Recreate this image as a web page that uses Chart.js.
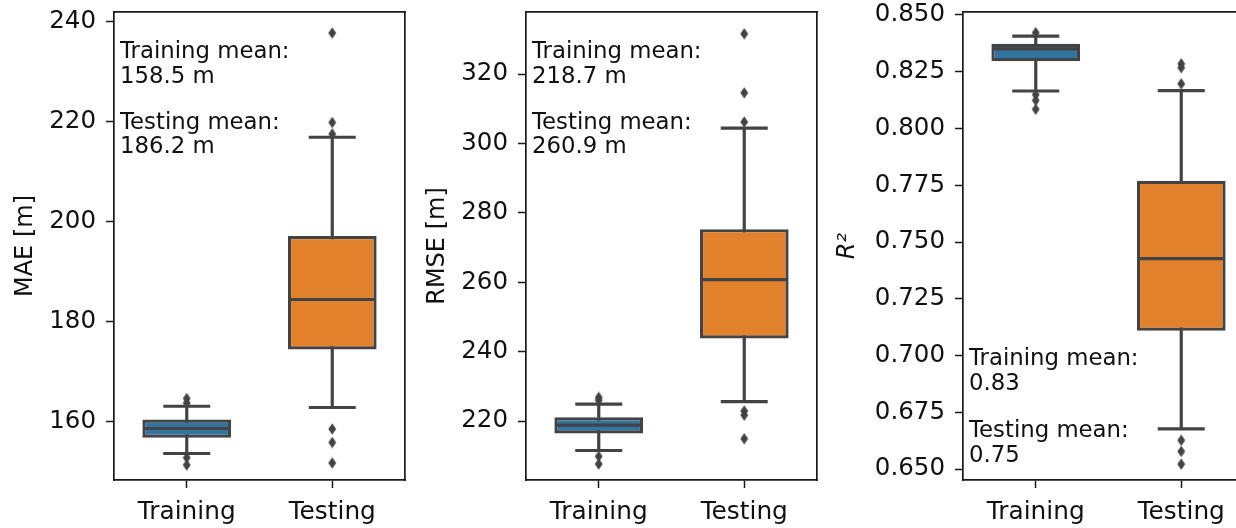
<!DOCTYPE html>
<html>
<head>
<meta charset="utf-8">
<script src="https://cdn.jsdelivr.net/npm/chart.js@4.4.0/dist/chart.umd.min.js"></script>
<style>
  html, body { margin: 0; padding: 0; background: #ffffff; overflow: hidden; width: 1236px; height: 528px; }
  .panel { position: absolute; top: 0; height: 528px; }
  canvas { display: block; }
</style>
</head>
<body>
<div class="panel" style="left:0px;"><canvas id="c1" width="410" height="528"></canvas></div>
<div class="panel" style="left:420px;"><canvas id="c2" width="402" height="528"></canvas></div>
<div class="panel" style="left:830px;"><canvas id="c3" width="430" height="528"></canvas></div>
<script>
// ---------------- DATA ----------------
const categories = ['Training', 'Testing'];

// MAE [m]
const maeQ1 = [156.75, 174.4];
const maeMedian = [158.6, 184.4];
const maeQ3 = [160.4, 197.1];
const maeWhiskerLow = [153.6, 162.8];
const maeWhiskerHigh = [163.05, 216.85];
const maeOutliersTraining = [164.6, 163.7, 152.75, 151.3];
const maeOutliersTesting = [237.7, 219.8, 217.5, 158.5, 155.8, 151.7];
const maeTicks = [160, 180, 200, 220, 240];
const maeMeans = [158.5, 186.2];

// RMSE [m]
const rmseQ1 = [216.4, 243.8];
const rmseMedian = [218.8, 260.75];
const rmseQ3 = [221.1, 275.3];
const rmseWhiskerLow = [211.5, 225.6];
const rmseWhiskerHigh = [224.85, 304.4];
const rmseOutliersTraining = [226.8, 226.0, 209.8, 207.6];
const rmseOutliersTesting = [331.6, 314.6, 306.2, 222.9, 221.7, 214.9];
const rmseTicks = [220, 240, 260, 280, 300, 320];
const rmseMeans = [218.7, 260.9];

// R^2
const r2Q1 = [0.8296, 0.7109];
const r2Median = [0.8351, 0.7427];
const r2Q3 = [0.8373, 0.7770];
const r2WhiskerLow = [0.8165, 0.6677];
const r2WhiskerHigh = [0.8407, 0.8167];
const r2OutliersTraining = [0.8422, 0.8149, 0.8124, 0.8085];
const r2OutliersTesting = [0.8285, 0.8268, 0.8197, 0.6627, 0.6578, 0.6522];
const r2Ticks = [0.650, 0.675, 0.700, 0.725, 0.750, 0.775, 0.800, 0.825, 0.850];
const r2Means = [0.83, 0.75];

// ---------------- STYLE ----------------
const FONT = 'DejaVu Sans';
const TEXT = '#111111';
const SPINE = '#1a1a1a';
const EDGE = '#434343';
const BOX_COLORS = ['#3274a1', '#e1812c'];

Chart.defaults.font.family = FONT;
Chart.defaults.color = TEXT;

// thin diamond marker for fliers
function makeDiamond() {
  const c = document.createElement('canvas');
  c.width = 9; c.height = 12;
  const g = c.getContext('2d');
  g.fillStyle = EDGE;
  g.beginPath();
  g.moveTo(4.5, 0.3); g.lineTo(8.4, 6); g.lineTo(4.5, 11.7); g.lineTo(0.6, 6);
  g.closePath(); g.fill();
  return c;
}
const diamond = makeDiamond();

const meanTextPlugin = {
  id: 'meanText',
  afterDraw(chart, args, opts) {
    if (!opts || !opts.lines) return;
    const { ctx, chartArea } = chart;
    ctx.save();
    ctx.font = '22.8px "' + FONT + '"';
    ctx.fillStyle = TEXT;
    ctx.textAlign = 'left';
    ctx.textBaseline = 'alphabetic';
    const baseY = opts.anchor === 'top' ? chartArea.top : chartArea.bottom;
    opts.lines.forEach((t, i) => {
      ctx.fillText(t, chartArea.left + 6, baseY + opts.offsets[i]);
    });
    ctx.restore();
  }
};

function makePanel(id, p) {
  const whiskerPts = [];
  categories.forEach((c, i) => {
    whiskerPts.push({ x: c, y: p.wLow[i] }, { x: c, y: p.wHigh[i] }, { x: c, y: null });
  });
  const capPts = [];
  categories.forEach((c, i) => {
    capPts.push({ x: c, y: p.wLow[i] }, { x: c, y: p.wHigh[i] });
  });
  const medianPts = categories.map((c, i) => ({ x: c, y: p.median[i] }));
  const outlierPts = p.outTrain.map(v => ({ x: categories[0], y: v }))
    .concat(p.outTest.map(v => ({ x: categories[1], y: v })));

  new Chart(document.getElementById(id), {
    type: 'bar',
    data: {
      labels: categories,
      datasets: [
        {
          type: 'line', label: 'outliers', order: 0, data: outlierPts,
          showLine: false, pointStyle: diamond, pointRadius: 5, pointHoverRadius: 5,
          clip: false
        },
        {
          type: 'line', label: 'medians', order: 1, data: medianPts,
          showLine: false, pointStyle: 'line', pointRadius: 43, pointBorderWidth: 3.2,
          pointBorderColor: EDGE, pointBackgroundColor: EDGE
        },
        {
          type: 'line', label: 'caps', order: 2, data: capPts,
          showLine: false, pointStyle: 'line', pointRadius: 23.5, pointBorderWidth: 3.2,
          pointBorderColor: EDGE, pointBackgroundColor: EDGE
        },
        {
          type: 'bar', label: 'box', order: 3,
          data: categories.map((c, i) => [p.q1[i], p.q3[i]]),
          backgroundColor: BOX_COLORS, borderColor: EDGE, borderWidth: 3.2,
          borderSkipped: false, barPercentage: 0.61, categoryPercentage: 1.0
        },
        {
          type: 'line', label: 'whiskers', order: 4, data: whiskerPts,
          borderColor: EDGE, borderWidth: 3.2, pointRadius: 0, spanGaps: false, fill: false
        }
      ]
    },
    options: {
      responsive: false,
      animation: false,
      events: [],
      layout: { autoPadding: false, padding: { top: 12, right: p.padRight, left: 0, bottom: 0 } },
      plugins: {
        legend: { display: false },
        tooltip: { enabled: false },
        meanText: { lines: p.meanLines, offsets: p.meanOffsets, anchor: p.meanAnchor }
      },
      scales: {
        x: {
          type: 'category', position: 'bottom', offset: true,
          ticks: { font: { size: 24.8 }, color: TEXT, padding: 10 },
          grid: { display: true, offset: false, drawOnChartArea: false, drawTicks: true,
                  tickLength: 8, tickWidth: 1.5, tickColor: SPINE },
          border: { display: true, color: SPINE, width: 1.7 },
          afterFit: s => { s.height = 48; s.paddingLeft = 0; s.paddingRight = 0; }
        },
        y: {
          type: 'linear', position: 'left', min: p.min, max: p.max,
          afterBuildTicks: s => { s.ticks = p.ticks.map(v => ({ value: v })); },
          ticks: { font: { size: 24.5 }, color: TEXT, padding: 10, callback: p.fmt },
          grid: { display: true, drawOnChartArea: false, drawTicks: true,
                  tickLength: 8, tickWidth: 1.5, tickColor: SPINE },
          border: { display: true, color: SPINE, width: 1.7 },
          title: { display: true, text: p.title, font: { size: 24, style: p.titleStyle || 'normal' },
                   color: TEXT, padding: { top: p.titlePad, bottom: 0 } },
          afterFit: s => { s.width = p.yWidth; s.paddingTop = 0; s.paddingBottom = 0; }
        },
        xTop: {
          type: 'linear', position: 'top', display: true,
          ticks: { display: false }, grid: { display: false },
          border: { display: true, color: SPINE, width: 1.7 },
          afterFit: s => { s.height = 0; s.paddingLeft = 0; s.paddingRight = 0; }
        },
        yRight: {
          type: 'linear', position: 'right', display: true,
          ticks: { display: false }, grid: { display: false },
          border: { display: true, color: SPINE, width: 1.7 },
          afterFit: s => { s.width = 0; s.paddingTop = 0; s.paddingBottom = 0; }
        }
      }
    },
    plugins: [meanTextPlugin]
  });
}

makePanel('c1', {
  q1: maeQ1, q3: maeQ3, median: maeMedian, wLow: maeWhiskerLow, wHigh: maeWhiskerHigh,
  outTrain: maeOutliersTraining, outTest: maeOutliersTesting,
  min: 148.3, max: 241.9, ticks: maeTicks, fmt: v => String(v),
  title: 'MAE [m]', titlePad: 11, yWidth: 114, padRight: 5,
  meanLines: ['Training mean:', maeMeans[0].toFixed(1) + ' m', 'Testing mean:', maeMeans[1].toFixed(1) + ' m'],
  meanOffsets: [46.3, 70.7, 116.7, 140.7], meanAnchor: 'top'
});

makePanel('c2', {
  q1: rmseQ1, q3: rmseQ3, median: rmseMedian, wLow: rmseWhiskerLow, wHigh: rmseWhiskerHigh,
  outTrain: rmseOutliersTraining, outTest: rmseOutliersTesting,
  min: 203.0, max: 337.9, ticks: rmseTicks, fmt: v => String(v),
  title: 'RMSE [m]', titlePad: 3, yWidth: 106, padRight: 5,
  meanLines: ['Training mean:', rmseMeans[0].toFixed(1) + ' m', 'Testing mean:', rmseMeans[1].toFixed(1) + ' m'],
  meanOffsets: [46.3, 70.7, 116.7, 140.7], meanAnchor: 'top'
});

makePanel('c3', {
  q1: r2Q1, q3: r2Q3, median: r2Median, wLow: r2WhiskerLow, wHigh: r2WhiskerHigh,
  outTrain: r2OutliersTraining, outTest: r2OutliersTesting,
  min: 0.6452, max: 0.8513, ticks: r2Ticks, fmt: v => Number(v).toFixed(3),
  title: 'R²', titleStyle: 'italic', titlePad: 3, yWidth: 133, padRight: 6,
  meanLines: ['Training mean:', r2Means[0].toFixed(2), 'Testing mean:', r2Means[1].toFixed(2)],
  meanOffsets: [-115, -90.5, -43, -18.5], meanAnchor: 'bottom'
});
</script>
</body>
</html>
